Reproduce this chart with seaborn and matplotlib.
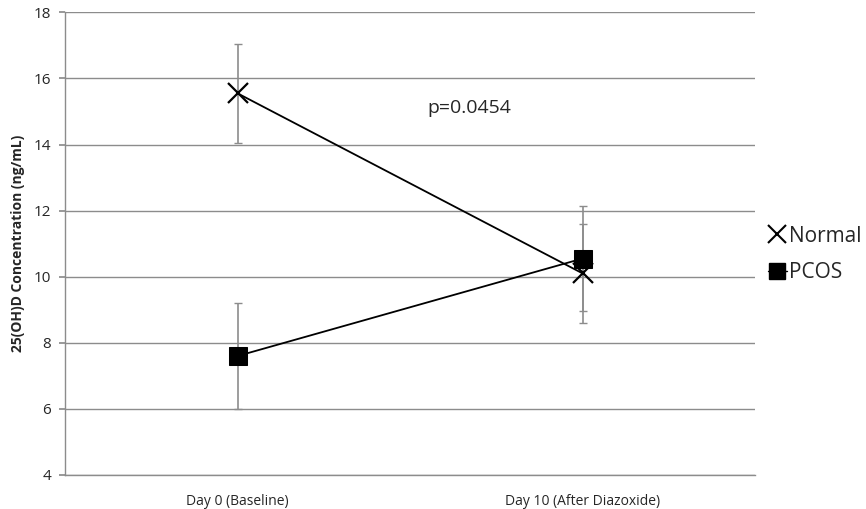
import matplotlib
matplotlib.use('Agg')
import matplotlib.pyplot as plt
import seaborn as sns
import pandas as pd
from matplotlib.lines import Line2D

# data
days = ['Day 0 (Baseline)', 'Day 10 (After Diazoxide)']
normal_mean = [15.55, 10.1]
normal_err = [1.5, 1.5]
pcos_mean = [7.6, 10.55]
pcos_err = [1.6, 1.58]
p_text = 'p=0.0454'

sns.set_theme(style='white')
plt.rcParams['font.family'] = ['Open Sans', 'DejaVu Sans']

df = pd.DataFrame({
    'day': [0, 1, 0, 1],
    'conc': normal_mean + pcos_mean,
    'group': ['Normal', 'Normal', 'PCOS', 'PCOS'],
})

fig = plt.figure(figsize=(8.66, 5.09), dpi=100)
ax = fig.add_axes([0.075, 0.0668, 0.797, 0.909])

# grey error bars behind everything
ax.errorbar([0, 1], normal_mean, yerr=normal_err, fmt='none', ecolor='#8c8c8c',
            elinewidth=1.2, capsize=3, capthick=1, zorder=1)
ax.errorbar([0, 1], pcos_mean, yerr=pcos_err, fmt='none', ecolor='#8c8c8c',
            elinewidth=1.2, capsize=3, capthick=1, zorder=1)

# filled and line markers can't be mixed in one call, so one call per group
sns.lineplot(data=df[df.group == 'Normal'], x='day', y='conc', color='black',
             marker='x', linewidth=1.3, markersize=15, markeredgewidth=1.6,
             markeredgecolor='black', legend=False, ax=ax, zorder=3)
sns.lineplot(data=df[df.group == 'PCOS'], x='day', y='conc', color='black',
             marker='s', linewidth=1.3, markersize=13, markeredgecolor='black',
             legend=False, ax=ax, zorder=3)

ax.set_xlim(-0.5, 1.5)
ax.set_ylim(4, 18)
ax.set_yticks(range(4, 19, 2))
ax.set_xticks([0, 1])
ax.set_xticklabels(days, fontsize=10)
ax.tick_params(axis='y', labelsize=11, left=True, length=4, color='#8c8c8c', pad=6)
ax.tick_params(axis='x', bottom=False, pad=8)
ax.yaxis.grid(True, color='#8c8c8c', linewidth=1)
ax.set_xlabel('')
ax.set_ylabel('25(OH)D Concentration (ng/mL)', fontsize=10, fontweight='bold', labelpad=6)
for side in ['top', 'right']:
    ax.spines[side].set_visible(False)
for side in ['left', 'bottom']:
    ax.spines[side].set_color('#8c8c8c')
    ax.spines[side].set_linewidth(1)

ax.text(0.55, 15.1, p_text, fontsize=14, ha='left', va='center')

handles = [
    Line2D([], [], color='black', marker='x', linestyle='none', markersize=13, markeredgewidth=1.5),
    Line2D([], [], color='black', marker='s', linestyle='-', linewidth=1, markersize=11),
]
leg = fig.legend(handles, ['Normal', 'PCOS'], loc='center left', bbox_to_anchor=(0.877, 0.5),
                 frameon=False, fontsize=15, handlelength=0.9, handletextpad=0.1,
                 labelspacing=0.75, borderaxespad=0)

fig.savefig('out.png', dpi=100)
